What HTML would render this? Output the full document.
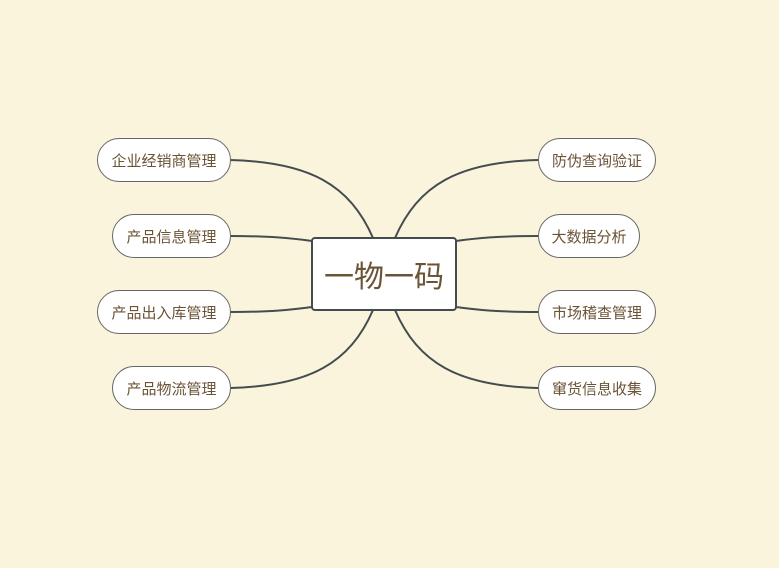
<!DOCTYPE html>
<html><head><meta charset="utf-8"><style>
body{margin:0;width:779px;height:568px;background:#fbf4dd;overflow:hidden;position:relative;font-family:"Liberation Sans","Noto Sans CJK SC",sans-serif}
.n{position:absolute;height:44px;box-sizing:border-box;border:1px solid #666;border-radius:22px;background:#fff;color:#6b5336;font-size:15px;display:flex;align-items:center;justify-content:center}
.c{position:absolute;left:311px;top:237px;width:146px;height:74px;box-sizing:border-box;border:2px solid #444c50;border-radius:4px;background:#fff;color:#6b5336;font-size:30px;display:flex;align-items:center;justify-content:center}
svg{position:absolute;left:0;top:0}
</style></head><body>
<svg width="779" height="568"><g fill="none" stroke="#444c50" stroke-width="2">
<path d="M230,160 C310,162 350,185 373,238"/>
<path d="M230,236 C270,236 290,238 312,241"/>
<path d="M230,312 C270,312 290,310 312,307"/>
<path d="M230,388 C310,386 350,363 373,310"/>
<path d="M538,160 C458,162 418,185 395,238"/>
<path d="M538,236 C498,236 478,238 456,241"/>
<path d="M538,312 C498,312 478,310 456,307"/>
<path d="M538,388 C458,386 418,363 395,310"/>
</g></svg>
<div class="c">一物一码</div>
<div class="n" style="left:97px;top:138px;width:134px">企业经销商管理</div>
<div class="n" style="left:112px;top:214px;width:119px">产品信息管理</div>
<div class="n" style="left:97px;top:290px;width:134px">产品出入库管理</div>
<div class="n" style="left:112px;top:366px;width:119px">产品物流管理</div>
<div class="n" style="left:538px;top:138px;width:118px">防伪查询验证</div>
<div class="n" style="left:538px;top:214px;width:102px">大数据分析</div>
<div class="n" style="left:538px;top:290px;width:118px">市场稽查管理</div>
<div class="n" style="left:538px;top:366px;width:118px">窜货信息收集</div>
</body></html>
